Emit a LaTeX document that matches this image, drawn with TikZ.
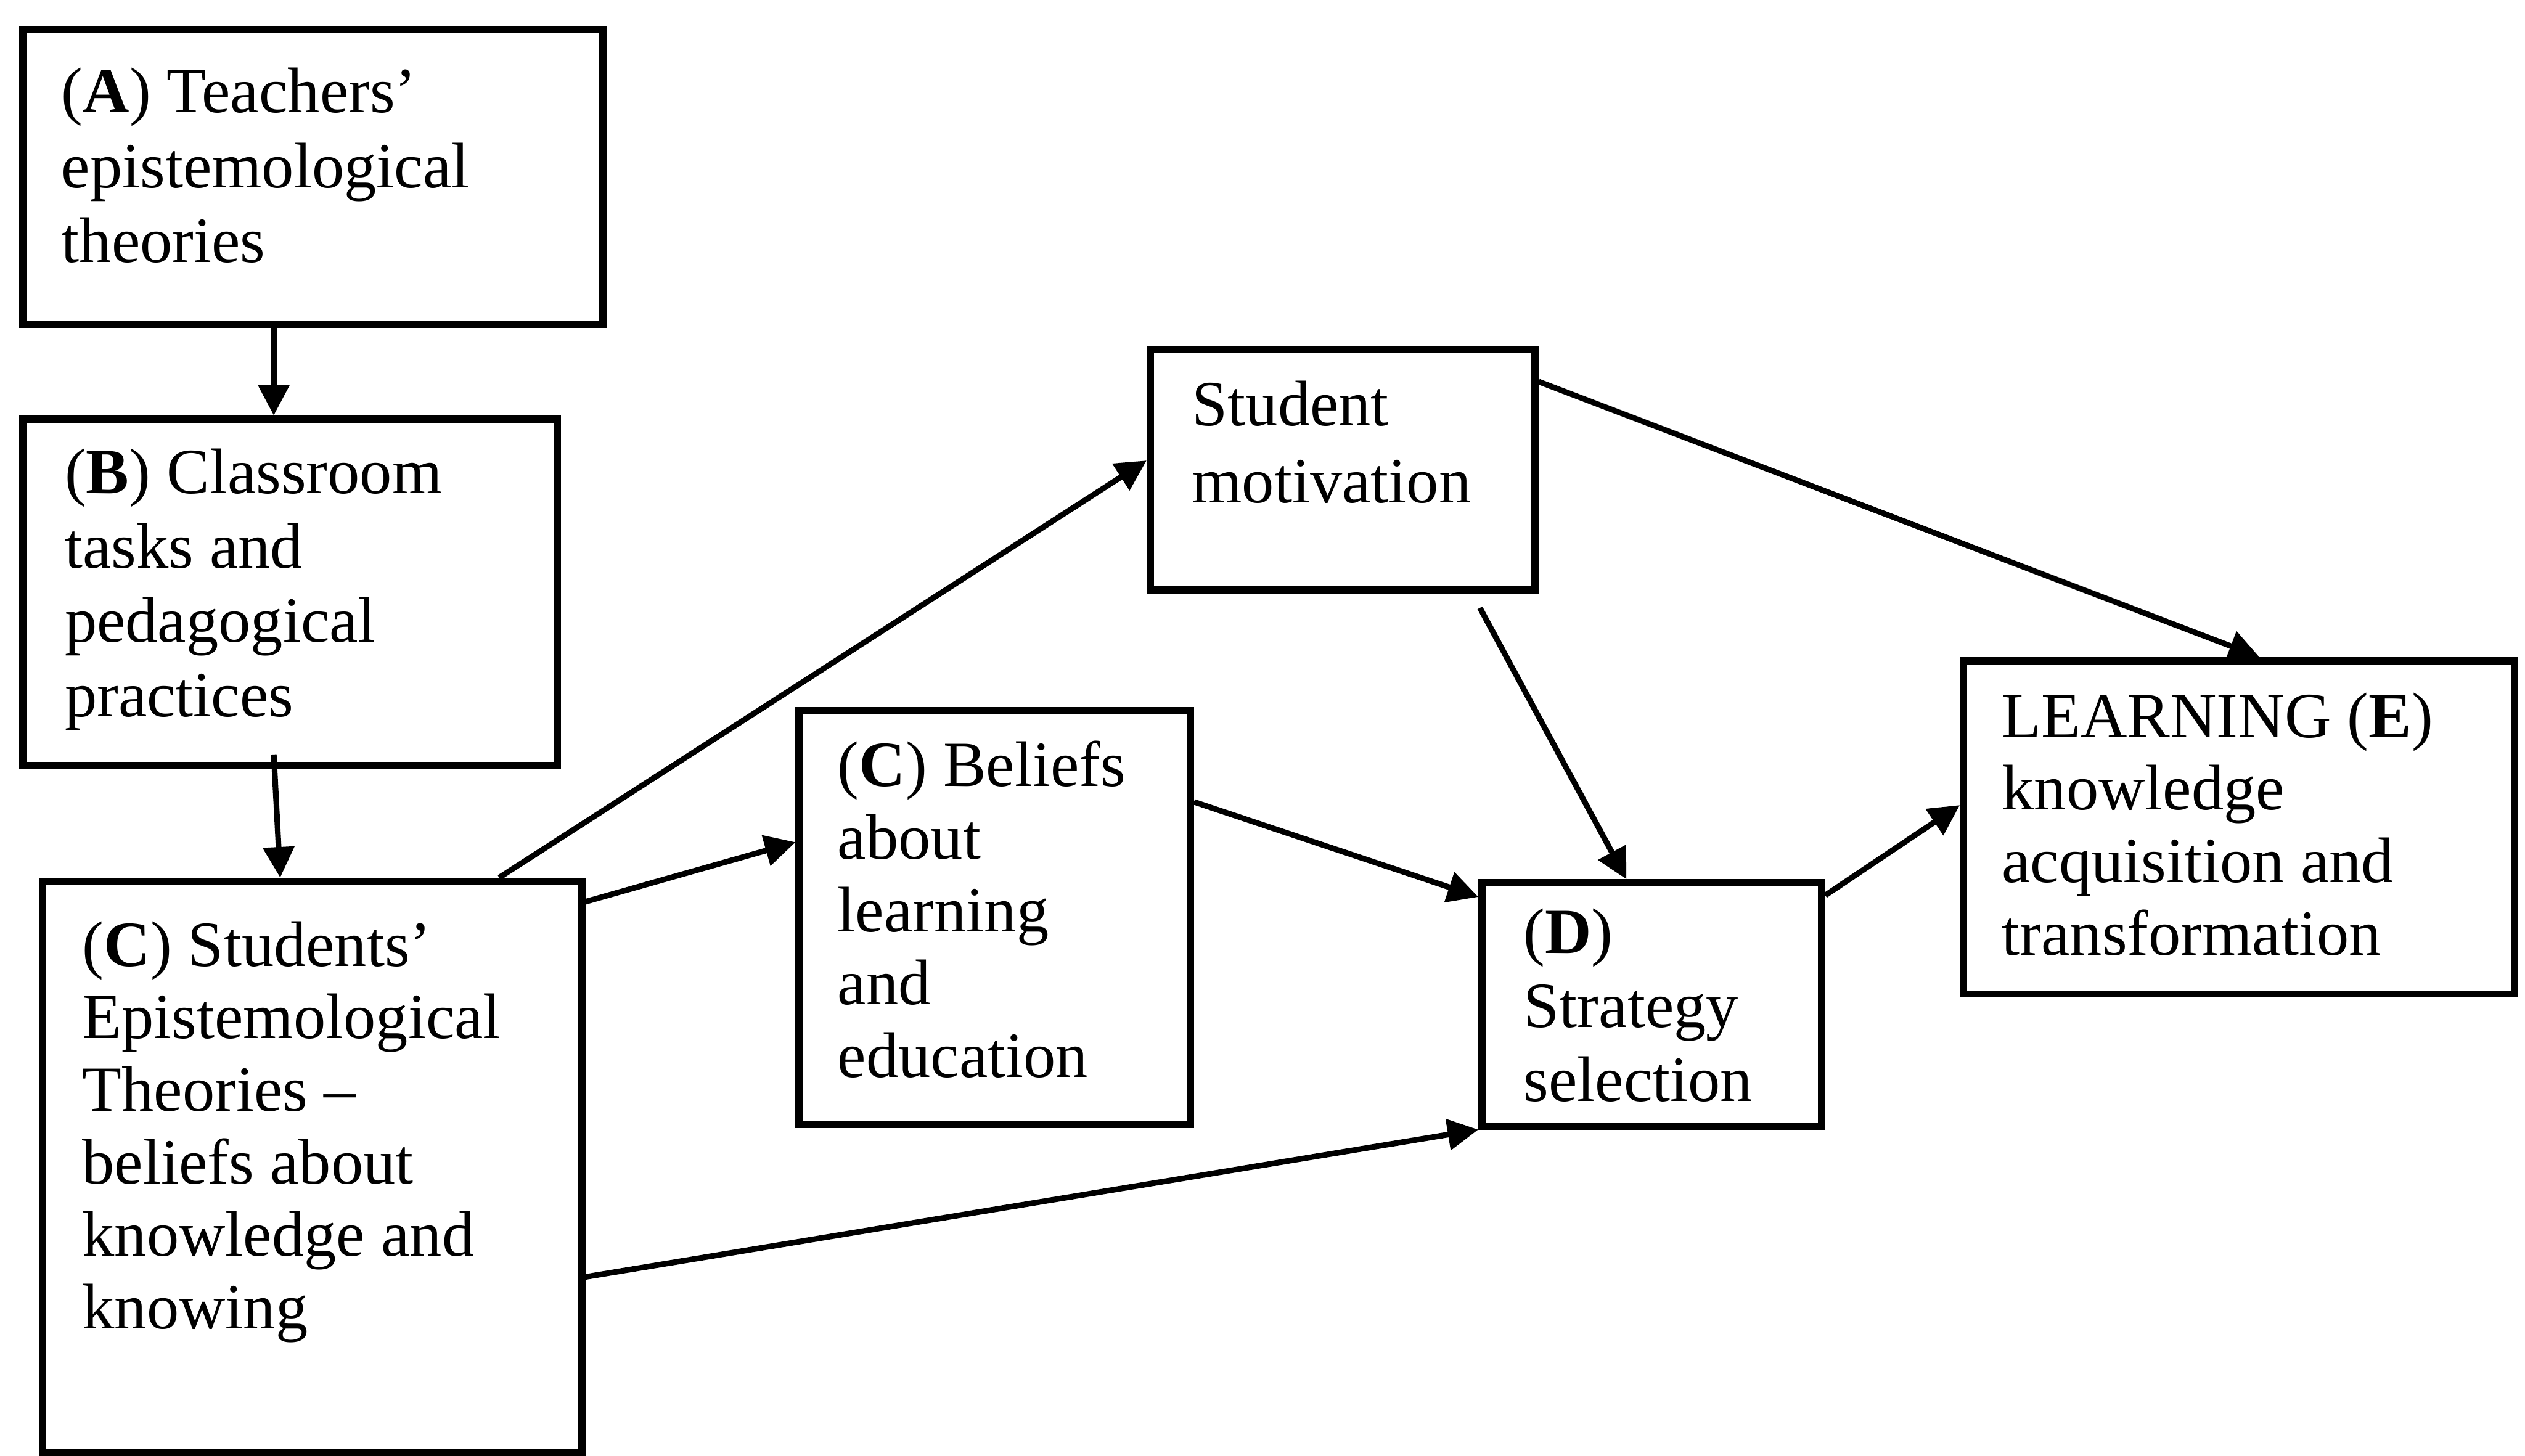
\documentclass[tikz,border=0pt]{standalone}
\usepackage{fontspec}
\setmainfont{Liberation Serif}
\usetikzlibrary{arrows.meta,calc}
\begin{document}
\begin{tikzpicture}[x=1pt,y=-1pt,
  box/.style={draw, line width=4.5pt, inner sep=0pt, anchor=north west},
  txt/.style={anchor=base west, align=left, inner sep=0pt, font=\fontsize{40}{46}\selectfont},
  arr/.style={line width=3.5pt, -{Triangle[length=19pt,width=19pt]}}
  ]
\useasboundingbox[fill=white] (0,0) rectangle (1568,904);

% boxes
\node[box, minimum width=360pt, minimum height=183pt] (A) at (12,16) {};
\node[box, minimum width=332pt, minimum height=215pt] (B) at (12,258) {};
\node[box, minimum width=335pt, minimum height=355pt] (C1) at (24,545) {};
\node[box, minimum width=239pt, minimum height=149pt] (Mot) at (712,215) {};
\node[box, minimum width=243pt, minimum height=257pt] (C2) at (494,439) {};
\node[box, minimum width=211pt, minimum height=151pt] (D) at (918,546) {};
\node[box, minimum width=342pt, minimum height=207pt] (E) at (1217,408) {};

% texts (anchor = baseline of the last line)
\node[txt, font=\fontsize{40}{46.5}\selectfont] (Atext) at (38,163) {(\textbf{A}) Teachers’\\epistemological\\theories};
\node[txt, font=\fontsize{40}{46.2}\selectfont] (Btext) at (40,445) {(\textbf{B}) Classroom\\tasks and\\pedagogical\\practices};
\node[txt, font=\fontsize{40}{45}\selectfont] (C1text) at (51,825) {(\textbf{C}) Students’\\Epistemological\\Theories –\\beliefs about\\knowledge and\\knowing};
\node[txt, font=\fontsize{40}{47.5}\selectfont] (Mottext) at (740,312) {Student\\motivation};
\node[txt, font=\fontsize{40}{45.2}\selectfont] (C2text) at (520,669) {(\textbf{C}) Beliefs\\about\\learning\\and\\education};
\node[txt, font=\fontsize{40}{46}\selectfont] (Dtext) at (946,684) {(\textbf{D})\\Strategy\\selection};
\node[txt, font=\fontsize{40}{45}\selectfont] (Etext) at (1243,593) {LEARNING (\textbf{E})\\knowledge\\acquisition and\\transformation};

% connectors
\draw[arr] ($(A.south west)+(158,0)$) -- ($(B.north west)+(158,0)$);
\draw[arr] ($(B.south west)+(158,-9)$) -- ($(C1.north west)+(150,0)$);
\draw[arr] ($(C1.north west)+(286,0)$) -- ($(Mot.north west)+(0,71)$);
\draw[arr] ($(C1.north east)+(0,15)$) -- ($(C2.north west)+(0,84)$);
\draw[arr] ($(C1.north east)+(0,248)$) -- (D.south west);
\draw[arr] ($(C2.north east)+(0,59)$) -- ($(D.north west)+(0,11)$);
\coordinate (MotOut) at ($(Mot.south west)+(207,9)$);
\draw[arr] (MotOut) -- ($(D.north west)+(92,0)$);
\draw[arr] ($(Mot.north east)+(0,22)$) -- ($(E.north west)+(186,0)$);
\draw[arr] ($(D.north east)+(0,10)$) -- ($(E.north west)+(0,92)$);
\end{tikzpicture}
\end{document}
